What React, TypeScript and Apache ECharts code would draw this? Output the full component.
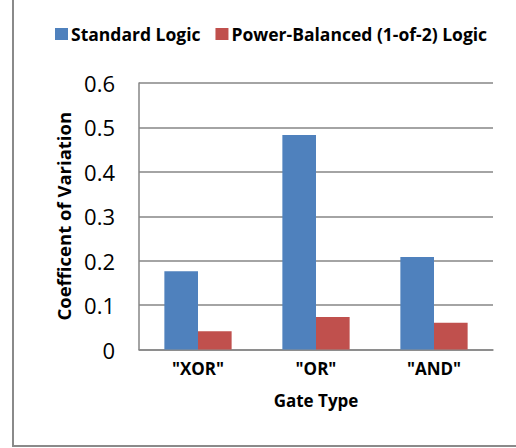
import React, { useEffect, useRef } from "react";
import * as echarts from "echarts";

const categories = ['"XOR"', '"OR"', '"AND"'];
const standardLogic = [0.176, 0.483, 0.208];
const powerBalanced = [0.041, 0.073, 0.06];
const seriesNames = ["Standard Logic", "Power-Balanced (1-of-2) Logic"];

const FONT = "Open Sans";

export default function App() {
  const ref = useRef<HTMLDivElement>(null);
  useEffect(() => {
    if (!ref.current) return;
    const chart = echarts.init(ref.current, null, { renderer: "svg" });
    chart.setOption({
      animation: false,
      backgroundColor: "#ffffff",
      graphic: [
        {
          type: "rect",
          shape: { x: 13, y: -10, width: 540, height: 456 },
          style: { fill: "none", stroke: "#8a8a8a", lineWidth: 2 },
          silent: true,
        },
      ],
      legend: {
        left: 55,
        top: 25,
        padding: 0,
        icon: "rect",
        itemWidth: 13,
        itemHeight: 12,
        itemGap: 15,
        textStyle: { fontFamily: FONT, fontSize: 17.5, fontWeight: "bold", color: "#000", padding: [0, 0, 0, -2] },
        data: seriesNames,
      },
      grid: { left: 139, top: 83, right: 23, bottom: 98.5, containLabel: false },
      xAxis: {
        type: "category",
        data: categories,
        name: "Gate Type",
        nameLocation: "middle",
        nameGap: 42,
        nameTextStyle: { fontFamily: FONT, fontSize: 17, fontWeight: "bold", color: "#000" },
        axisLine: { lineStyle: { color: "#868686", width: 1.5 } },
        axisTick: { show: false },
        axisLabel: { fontFamily: FONT, fontSize: 17, fontWeight: "bold", color: "#000", margin: 10 },
      },
      yAxis: {
        type: "value",
        min: 0,
        max: 0.6,
        interval: 0.1,
        name: "Coefficent of Variation",
        nameLocation: "middle",
        nameGap: 66,
        nameTextStyle: { fontFamily: FONT, fontSize: 18.5, fontWeight: "bold", color: "#000" },
        axisLine: { show: true, lineStyle: { color: "#868686", width: 1.5 } },
        axisTick: { show: false },
        axisLabel: {
          fontFamily: FONT,
          fontSize: 22,
          color: "#000",
          margin: 24,
          formatter: (v: number) => String(Math.round(v * 10) / 10),
        },
        splitLine: { lineStyle: { color: "#868686", width: 1.5 } },
      },
      series: [
        {
          name: seriesNames[0],
          type: "bar",
          data: standardLogic,
          barGap: "0%",
          barCategoryGap: "43%",
          itemStyle: { color: "#4F81BD" },
        },
        {
          name: seriesNames[1],
          type: "bar",
          data: powerBalanced,
          barGap: "0%",
          barCategoryGap: "43%",
          itemStyle: { color: "#C0504D" },
        },
      ],
    });
    return () => chart.dispose();
  }, []);
  return (
    <div
      ref={ref}
      style={{ position: "fixed", left: 0, top: 0, width: 516, height: 448 }}
    />
  );
}
